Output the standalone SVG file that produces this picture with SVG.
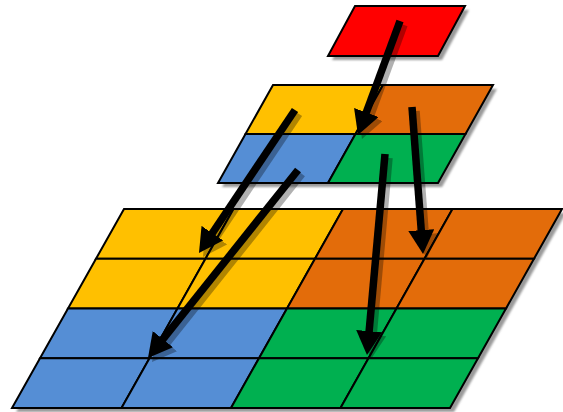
<svg xmlns="http://www.w3.org/2000/svg" width="563" height="412" viewBox="0 0 563 412">
<style>
.c{stroke:#000;stroke-width:2;stroke-linejoin:miter}
.sh{fill:#9a9a9a;filter:url(#blur)}
.r{fill:#FF0000}.y{fill:#FFC000}.o{fill:#E36C0A}.b{fill:#558ED5}.g{fill:#00B050}
.a{stroke:#000;stroke-width:7.5;fill:none;marker-end:url(#head)}
</style>
<defs>
<filter id="blur" x="-10%" y="-10%" width="120%" height="120%"><feGaussianBlur stdDeviation="1"/></filter>
<marker id="head" markerUnits="userSpaceOnUse" markerWidth="24" markerHeight="26" refX="6" refY="13" orient="auto" viewBox="0 0 24 26">
<path d="M0,0 L24,13 L0,26 Z" fill="#000"/>
</marker>
</defs>
<rect width="563" height="412" fill="#fff"/>
<g id="shadows" transform="translate(4,4)">
<polygon class="sh" points="355,6 465,6 438,56 328,56"/>
<polygon class="sh" points="273,85 493,85 438,183 218,183"/>
<polygon class="sh" points="124,209 562,209 450,408 12,408"/>
</g>
<g id="bottom">
<g id="b00"><polygon class="c y" points="124,209 233.5,209 205.5,258.75 96,258.75"/></g>
<g id="b01"><polygon class="c y" points="233.5,209 343,209 315,258.75 205.5,258.75"/></g>
<g id="b02"><polygon class="c o" points="343,209 452.5,209 424.5,258.75 315,258.75"/></g>
<g id="b03"><polygon class="c o" points="452.5,209 562,209 534,258.75 424.5,258.75"/></g>
<g id="b10"><polygon class="c y" points="96,258.75 205.5,258.75 177.5,308.5 68,308.5"/></g>
<g id="b11"><polygon class="c y" points="205.5,258.75 315,258.75 287,308.5 177.5,308.5"/></g>
<g id="b12"><polygon class="c o" points="315,258.75 424.5,258.75 396.5,308.5 287,308.5"/></g>
<g id="b13"><polygon class="c o" points="424.5,258.75 534,258.75 506,308.5 396.5,308.5"/></g>
<g id="b20"><polygon class="c b" points="68,308.5 177.5,308.5 149.5,358.25 40,358.25"/></g>
<g id="b21"><polygon class="c b" points="177.5,308.5 287,308.5 259,358.25 149.5,358.25"/></g>
<g id="b22"><polygon class="c g" points="287,308.5 396.5,308.5 368.5,358.25 259,358.25"/></g>
<g id="b23"><polygon class="c g" points="396.5,308.5 506,308.5 478,358.25 368.5,358.25"/></g>
<g id="b30"><polygon class="c b" points="40,358.25 149.5,358.25 121.5,408 12,408"/></g>
<g id="b31"><polygon class="c b" points="149.5,358.25 259,358.25 231,408 121.5,408"/></g>
<g id="b32"><polygon class="c g" points="259,358.25 368.5,358.25 340.5,408 231,408"/></g>
<g id="b33"><polygon class="c g" points="368.5,358.25 478,358.25 450,408 340.5,408"/></g>
</g>
<g id="middle">
<g id="m00"><polygon class="c y" points="273,85 383,85 355.5,134 245.5,134"/></g>
<g id="m01"><polygon class="c o" points="383,85 493,85 465.5,134 355.5,134"/></g>
<g id="m10"><polygon class="c b" points="245.5,134 355.5,134 328,183 218,183"/></g>
<g id="m11"><polygon class="c g" points="355.5,134 465.5,134 438,183 328,183"/></g>
</g>
<g id="top">
<polygon class="c r" points="355,6 465,6 438,56 328,56"/>
</g>
<g id="connectors">
<g opacity="0.3" transform="translate(4,4)">
<line class="a" x1="400" y1="21" x2="364.2" y2="118.1"/>
<line class="a" x1="295" y1="110" x2="209" y2="238.1"/>
<line class="a" x1="298" y1="170" x2="159.2" y2="343.9"/>
<line class="a" x1="412" y1="107" x2="421.7" y2="236.1"/>
<line class="a" x1="385" y1="154" x2="368.6" y2="337.1"/>
</g>
<line class="a" x1="400" y1="21" x2="364.2" y2="118.1"/>
<line class="a" x1="295" y1="110" x2="209" y2="238.1"/>
<line class="a" x1="298" y1="170" x2="159.2" y2="343.9"/>
<line class="a" x1="412" y1="107" x2="421.7" y2="236.1"/>
<line class="a" x1="385" y1="154" x2="368.6" y2="337.1"/>
</g>
</svg>
